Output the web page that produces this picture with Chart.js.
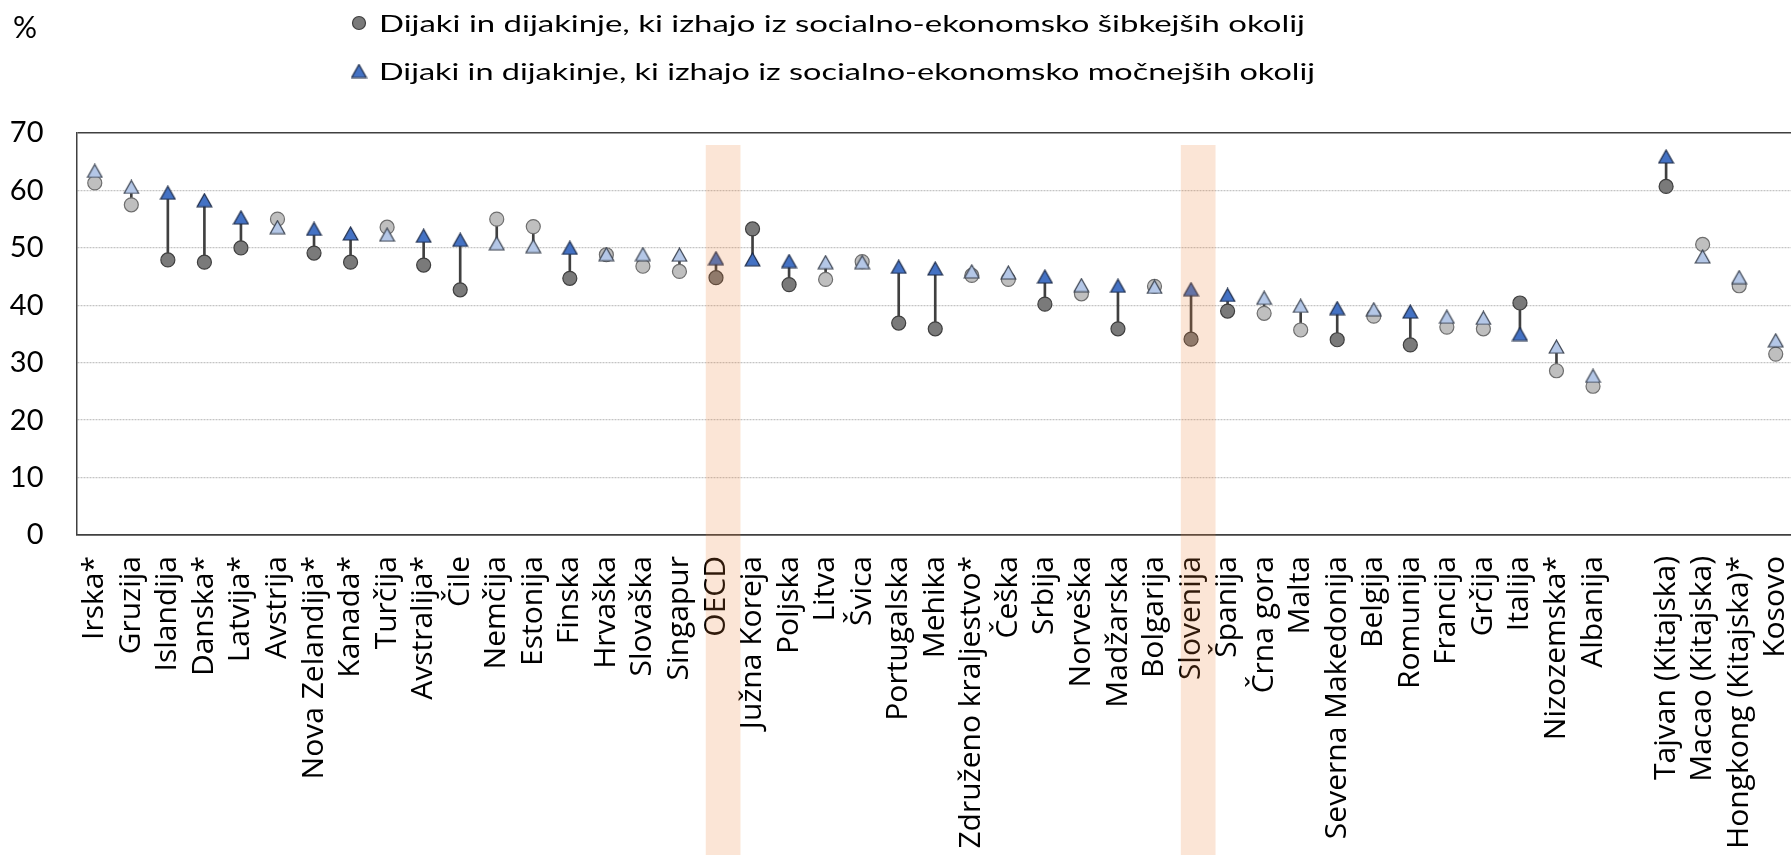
<!DOCTYPE html>
<html>
<head>
<meta charset="utf-8">
<script src="https://cdn.jsdelivr.net/npm/chart.js@4/dist/chart.umd.min.js"></script>
<style>
html,body{margin:0;padding:0;overflow:hidden;background:#ffffff;}
#wrap{width:1803px;height:858px;}
</style>
</head>
<body>
<div id="wrap"><canvas id="c" width="1803" height="858"></canvas></div>
<script>
const categories = ["Irska*","Gruzija","Islandija","Danska*","Latvija*","Avstrija","Nova Zelandija*","Kanada*","Turčija","Avstralija*","Čile","Nemčija","Estonija","Finska","Hrvaška","Slovaška","Singapur","OECD","Južna Koreja","Poljska","Litva","Švica","Portugalska","Mehika","Združeno kraljestvo*","Češka","Srbija","Norveška","Madžarska","Bolgarija","Slovenija","Španija","Črna gora","Malta","Severna Makedonija","Belgija","Romunija","Francija","Grčija","Italija","Nizozemska*","Albanija","","Tajvan (Kitajska)","Macao (Kitajska)","Hongkong (Kitajska)*","Kosovo"];

const disadvantaged = [61.3,57.5,47.9,47.5,50.0,55.0,49.1,47.5,53.6,47.0,42.7,55.0,53.7,44.7,48.8,46.8,45.9,44.8,53.3,43.6,44.5,47.6,36.9,35.9,45.2,44.5,40.2,42.0,35.9,43.3,34.1,39.0,38.6,35.7,34.0,38.1,33.1,36.2,35.9,40.4,28.6,25.9,null,60.7,50.6,43.4,31.5];

const advantaged = [63.4,60.6,59.6,58.3,55.3,53.6,53.3,52.5,52.3,52.1,51.4,50.8,50.3,50.0,48.9,48.9,48.8,48.2,48.0,47.7,47.5,47.5,46.7,46.4,45.9,45.7,45.0,43.5,43.4,43.2,42.8,41.8,41.3,39.9,39.5,39.3,38.9,38.0,37.8,35.0,32.8,27.7,null,65.9,48.5,44.9,33.9];

const significant = [false,false,true,true,true,false,true,true,false,true,true,false,false,true,false,false,false,true,true,true,false,false,true,true,false,false,true,false,true,false,true,true,false,false,true,false,true,false,false,true,false,false,false,true,false,false,false];

const yTicks = [0,10,20,30,40,50,60,70];
const highlighted = ["OECD","Slovenija"];
const legendLabels = ["Dijaki in dijakinje, ki izhajo iz socialno-ekonomsko šibkejših okolij","Dijaki in dijakinje, ki izhajo iz socialno-ekonomsko močnejših okolij"];
const unitLabel = "%";

function makeTriangle(fill, stroke) {
  const c = document.createElement('canvas');
  c.width = 17; c.height = 15;
  const g = c.getContext('2d');
  g.beginPath();
  g.moveTo(8.5, 1);
  g.lineTo(15.8, 14);
  g.lineTo(1.2, 14);
  g.closePath();
  g.fillStyle = fill; g.fill();
  g.lineWidth = 1.2; g.strokeStyle = stroke; g.stroke();
  return c;
}

function build() {
  const TRI_DARK = makeTriangle('#4472c4', '#1c2a47');
  const TRI_LIGHT = makeTriangle('#b4c7e7', '#3a4250');
  const CIRC_DARK = '#7a7a7a', CIRC_LIGHT = '#bfbfbf';

  const rangeData = categories.map((_, i) =>
    (disadvantaged[i] == null || advantaged[i] == null) ? null :
    [Math.min(disadvantaged[i], advantaged[i]), Math.max(disadvantaged[i], advantaged[i])]);

  const overlay = {
    id: 'overlay',
    afterDraw(chart) {
      const ctx = chart.ctx;
      const x = chart.scales.x;
      const step = x.getPixelForValue(1) - x.getPixelForValue(0);
      ctx.save();
      // highlight bands
      ctx.fillStyle = 'rgba(237,125,49,0.2)';
      highlighted.forEach(name => {
        const i = categories.indexOf(name);
        const cx = x.getPixelForValue(i);
        ctx.fillRect(cx - 0.28 * step, 145, 0.95 * step, 710);
      });
      // unit label
      ctx.fillStyle = '#000';
      ctx.font = '30px Lato';
      ctx.textBaseline = 'alphabetic';
      ctx.textAlign = 'left';
      ctx.fillText(unitLabel, 13, 38);
      // legend
      ctx.beginPath();
      ctx.arc(359, 23, 6.5, 0, Math.PI * 2);
      ctx.fillStyle = CIRC_DARK; ctx.fill();
      ctx.lineWidth = 1.2; ctx.strokeStyle = '#3f3f3f'; ctx.stroke();
      ctx.drawImage(TRI_DARK, 359 - 8.5, 71 - 7.5);
      ctx.fillStyle = '#000';
      ctx.font = '24px Lato';
      [[legendLabels[0], 31.5, 926], [legendLabels[1], 79.5, 936]].forEach(([t, by, tw]) => {
        const sx = tw / ctx.measureText(t).width;
        ctx.save();
        ctx.translate(379, by);
        ctx.scale(sx, 1);
        ctx.fillText(t, 0, 0);
        ctx.restore();
      });
      ctx.restore();
    }
  };

  new Chart(document.getElementById('c'), {
    type: 'bar',
    data: {
      labels: categories,
      datasets: [
        {
          type: 'line',
          label: legendLabels[1],
          data: advantaged,
          showLine: false,
          pointStyle: advantaged.map((_, i) => significant[i] ? TRI_DARK : TRI_LIGHT),
          pointRadius: 8,
          pointHoverRadius: 8,
          order: 0,
          clip: false
        },
        {
          type: 'line',
          label: legendLabels[0],
          data: disadvantaged,
          showLine: false,
          pointStyle: 'circle',
          pointRadius: 7,
          pointHoverRadius: 7,
          pointBackgroundColor: significant.map(s => s ? CIRC_DARK : CIRC_LIGHT),
          pointBorderColor: significant.map(s => s ? '#3f3f3f' : '#6e6e6e'),
          pointBorderWidth: 1.2,
          order: 1,
          clip: false
        },
        {
          type: 'bar',
          label: 'razlika',
          data: rangeData,
          backgroundColor: '#404040',
          borderWidth: 0,
          barThickness: 2,
          order: 2
        }
      ]
    },
    options: {
      responsive: false,
      animation: false,
      devicePixelRatio: 1,
      events: [],
      layout: { padding: { left: 0, right: 1, top: 133, bottom: 0 } },
      plugins: { legend: { display: false }, tooltip: { enabled: false } },
      scales: {
        x: {
          offset: true,
          grid: { display: false, drawTicks: false },
          border: { display: true, color: '#404040', width: 1.5 },
          ticks: {
            autoSkip: false, maxRotation: 90, minRotation: 90, padding: 21,
            color: '#000', font: { family: 'Open Sans', size: 30 }
          },
          afterFit: s => { s.height = 323; s.paddingLeft = 0; s.paddingRight = 0; }
        },
        y: {
          min: 0, max: 70,
          afterBuildTicks: s => { s.ticks = yTicks.map(v => ({ value: v })); },
          ticks: { padding: 33, color: '#000', font: { family: 'Lato', size: 29 } },
          grid: {
            drawTicks: false,
            color: c => (c.tick && (c.tick.value === 0 || c.tick.value === 70)) ? '#404040' : '#c4c4c4',
            lineWidth: c => (c.tick && (c.tick.value === 0 || c.tick.value === 70)) ? 1.5 : 1.3
          },
          border: {
            display: true, color: '#404040', width: 1.5,
            dash: c => (c.tick && c.tick.value > 0 && c.tick.value < 70) ? [2, 1] : []
          },
          afterFit: s => { s.width = 76.5; s.paddingTop = 0; s.paddingBottom = 0; }
        }
      }
    },
    plugins: [overlay]
  });
}

if (document.fonts && document.fonts.load) {
  Promise.all([document.fonts.load('28px Lato'), document.fonts.load('24px Lato'), document.fonts.load('30px "Open Sans"')])
    .then(build, build);
} else {
  build();
}
</script>
</body>
</html>
